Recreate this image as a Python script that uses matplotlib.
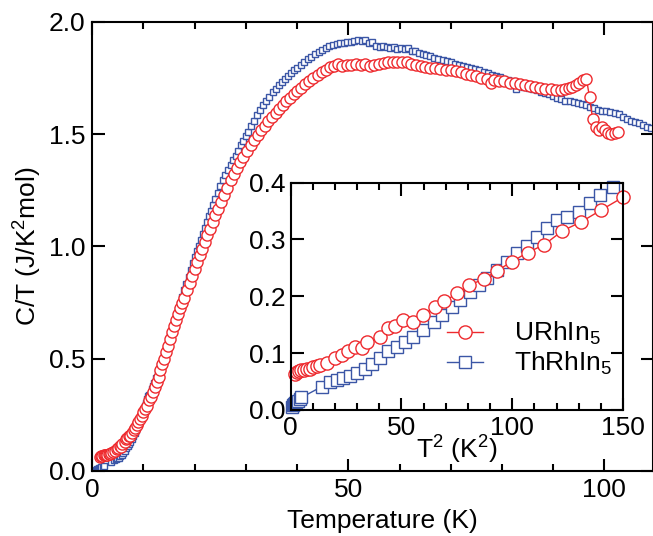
import numpy as np
import matplotlib
matplotlib.use("Agg")
import matplotlib.pyplot as plt

plt.rcParams['font.family'] = ['Liberation Sans', 'DejaVu Sans']
plt.rcParams['mathtext.fontset'] = 'custom'
plt.rcParams['mathtext.rm'] = 'Liberation Sans'
plt.rcParams['mathtext.it'] = 'Liberation Sans:italic'
plt.rcParams['mathtext.bf'] = 'Liberation Sans:bold'

# ---- URhIn5 (red circles): T (K), C/T (J/K^2 mol)
u_T = [1.45, 1.7, 1.95, 2.2, 2.45, 2.7, 2.95, 3.2, 3.45, 3.65, 4.07, 4.47, 4.80, 5.10,
       5.39, 5.66, 5.86, 6.36, 6.64, 6.86, 7.13, 7.44, 7.74, 8.07, 8.32, 8.66, 8.98,
       9.33, 9.65, 9.99, 10.34, 10.70, 11.07, 11.45, 11.84, 12.24,
       12.6, 12.95, 13.3, 13.65, 14.0, 14.4, 14.8, 15.2, 15.6, 16.0, 16.4, 16.8, 17.2,
       17.6, 18.0, 18.5, 19.0, 19.5, 20.0, 20.5, 21.0, 21.5, 22.0, 22.5, 23.0, 23.5,
       24.0, 24.6, 25.2, 25.8, 26.4, 27.0, 27.6, 28.2, 28.8, 29.5, 30.2, 30.9, 31.6,
       32.3, 33.0, 33.7, 34.4, 35.1, 35.8, 36.5, 37.2, 37.9, 38.6, 39.3, 40.0, 40.8,
       41.6, 42.4, 43.2, 44.0, 44.8, 45.6, 46.4, 47.2, 48.0, 48.8, 49.7, 50.6, 51.5,
       52.4, 53.3, 54.2, 55.1, 56.0, 56.9, 57.8, 58.7, 59.6, 60.5, 61.4, 62.3, 63.2,
       64.1, 65.0, 66.0, 67.0, 68.0, 69.0, 70.0, 71.0, 72.0, 73.0, 74.0, 75.0, 76.0,
       77.0, 77.8, 78.5, 79.5, 80.5, 81.5, 82.5, 83.5, 84.5, 85.5, 86.5, 87.5, 88.5,
       89.5, 90.5, 91.5, 92.3, 93.0, 93.7, 94.4, 95.1, 95.8, 96.5, 97.1, 97.7, 98.3,
       98.9, 99.5, 100.1, 100.7, 101.3, 102.0, 102.7]
u_CT = [0.063, 0.066, 0.068, 0.070, 0.071, 0.072, 0.073, 0.075, 0.077, 0.079, 0.083,
        0.091, 0.097, 0.103, 0.111, 0.109, 0.119, 0.129, 0.144, 0.147, 0.158, 0.154,
        0.167, 0.182, 0.191, 0.205, 0.220, 0.230, 0.245, 0.261, 0.277, 0.291, 0.315,
        0.331, 0.352, 0.374,
        0.395, 0.42, 0.45, 0.475, 0.50, 0.528, 0.558, 0.59, 0.618, 0.645, 0.672, 0.698,
        0.724, 0.748, 0.772, 0.805, 0.838, 0.87, 0.90, 0.93, 0.96, 0.99, 1.02, 1.05,
        1.08, 1.11, 1.14, 1.168, 1.20, 1.23, 1.262, 1.295, 1.325, 1.35, 1.375, 1.40,
        1.425, 1.45, 1.475, 1.497, 1.518, 1.538, 1.558, 1.577, 1.596, 1.613, 1.63,
        1.647, 1.663, 1.678, 1.692, 1.707, 1.722, 1.737, 1.751, 1.764, 1.776, 1.788,
        1.798, 1.806, 1.812, 1.805, 1.81, 1.808, 1.812, 1.81, 1.814, 1.806, 1.81,
        1.815, 1.818, 1.82, 1.822, 1.823, 1.822, 1.82, 1.815, 1.81, 1.805, 1.80, 1.797,
        1.795, 1.792, 1.788, 1.785, 1.78, 1.775, 1.77, 1.765, 1.76, 1.752, 1.745,
        1.73, 1.742, 1.738, 1.735, 1.73, 1.727, 1.724, 1.72, 1.715, 1.71, 1.705, 1.70,
        1.70, 1.697, 1.695, 1.70, 1.705, 1.712, 1.718, 1.728, 1.74, 1.748, 1.665, 1.57,
        1.53, 1.518, 1.53, 1.52, 1.505, 1.50, 1.505, 1.512]

# ---- ThRhIn5 (blue squares)
th_T = [0.8, 1.0, 1.2, 1.4, 1.6, 1.8, 2.0, 2.2, 3.74, 4.22, 4.56, 4.88, 5.18, 5.46,
        5.80, 6.05, 6.36, 6.64, 6.92, 7.19, 7.44, 7.74, 8.03, 8.26, 8.53, 8.75, 9.0,
        9.21, 9.41, 9.65, 9.88, 10.10, 10.32, 10.54, 10.76, 10.96, 11.17, 11.40, 11.63,
        11.82, 12.07,
        12.4, 12.8, 13.2, 13.6, 14.0, 14.4, 14.8, 15.2, 15.6, 16.0, 16.4, 16.8, 17.2,
        17.6, 18.0, 18.4, 18.8, 19.2, 19.6, 20.0, 20.4, 20.8, 21.2, 21.6, 22.0, 22.4,
        22.8, 23.2, 23.6, 24.0, 24.5, 25.0, 25.5, 26.0, 26.5, 27.0, 27.5, 28.0, 28.5,
        29.0, 29.5, 30.0, 30.5, 31.0, 31.6, 32.2, 32.8, 33.4, 34.0, 34.6, 35.2, 35.8,
        36.4, 37.0, 37.6, 38.2, 38.8, 39.4, 40.0, 40.7, 41.4, 42.1, 42.8, 43.5, 44.2,
        44.9, 45.6, 46.3, 47.0, 47.7, 48.4, 49.1, 49.8, 50.5, 51.2, 51.9, 52.6, 53.3,
        54.0, 54.7, 55.4, 56.1, 56.8, 57.5, 58.2, 58.9, 59.6, 60.3, 61.0, 61.7, 62.4,
        63.1, 63.8, 64.5, 65.2, 66.0, 66.8, 67.6, 68.4, 69.2, 70.0, 70.8, 71.6, 72.4,
        73.2, 74.0, 74.8, 75.6, 76.4, 77.2, 78.0, 78.8, 79.6, 80.4, 81.2, 82.0, 82.8,
        83.6, 84.4, 85.2, 86.0, 86.8, 87.6, 88.4, 89.2, 90.0, 90.8, 91.6, 92.4, 93.2,
        94.0, 94.8, 95.6, 96.4, 97.2, 98.0, 98.8, 99.6, 100.4, 101.2, 102.0, 102.8,
        103.6, 104.4, 105.2, 106.0, 106.8, 107.6, 108.4, 109.2]
th_CT = [0.006, 0.008, 0.010, 0.012, 0.014, 0.016, 0.019, 0.022, 0.041, 0.050, 0.053,
         0.056, 0.059, 0.065, 0.073, 0.081, 0.091, 0.103, 0.111, 0.120, 0.129, 0.141,
         0.155, 0.167, 0.182, 0.194, 0.208, 0.220, 0.232, 0.246, 0.261, 0.276, 0.289,
         0.304, 0.320, 0.334, 0.340, 0.349, 0.364, 0.378, 0.392,
         0.415, 0.44, 0.466, 0.492, 0.518, 0.545, 0.572, 0.60, 0.628, 0.657, 0.686,
         0.715, 0.745, 0.775, 0.805, 0.835, 0.865, 0.895, 0.925, 0.952, 0.978, 1.003,
         1.03, 1.056, 1.082, 1.108, 1.134, 1.16, 1.185, 1.21, 1.24, 1.268, 1.295, 1.318,
         1.34, 1.362, 1.384, 1.405, 1.427, 1.45, 1.47, 1.49, 1.512, 1.535, 1.56, 1.585,
         1.608, 1.628, 1.648, 1.668, 1.686, 1.703, 1.718, 1.733, 1.745, 1.758, 1.772,
         1.786, 1.797, 1.81, 1.822, 1.833, 1.845, 1.856, 1.866, 1.875, 1.884, 1.892,
         1.897, 1.902, 1.905, 1.908, 1.91, 1.912, 1.915, 1.92, 1.915, 1.918, 1.905,
         1.91, 1.895, 1.89, 1.895, 1.89, 1.885, 1.89, 1.88, 1.885, 1.878, 1.882, 1.87,
         1.872, 1.862, 1.858, 1.852, 1.848, 1.84, 1.835, 1.83, 1.825, 1.82, 1.815, 1.81,
         1.805, 1.80, 1.796, 1.79, 1.785, 1.778, 1.772, 1.765, 1.76, 1.755, 1.748,
         1.742, 1.735, 1.70, 1.72, 1.712, 1.706, 1.70, 1.695, 1.69, 1.685, 1.678, 1.67,
         1.662, 1.656, 1.65, 1.646, 1.642, 1.638, 1.634, 1.63, 1.622, 1.615, 1.61,
         1.605, 1.602, 1.598, 1.595, 1.59, 1.578, 1.568, 1.56, 1.555, 1.548, 1.54,
         1.532, 1.526]

labels = ['URhIn$_5$', 'ThRhIn$_5$']
RED = '#EE2A2E'
BLUE = '#3B56A6'

u_T, u_CT = np.array(u_T), np.array(u_CT)
th_T, th_CT = np.array(th_T), np.array(th_CT)

fig = plt.figure(figsize=(6.53, 5.36), dpi=100)

# ---- main panel
ax = fig.add_axes([0.1413, 0.1213, 0.8587, 0.8377])
ax.plot(th_T, th_CT, '-s', color=BLUE, mfc='white', ms=4.5, mew=1, lw=1)
ax.plot(u_T, u_CT, '-o', color=RED, mfc='white', ms=8, mew=1, lw=1)
ax.set_xlim(0, 109.5)
ax.set_ylim(0, 2.0)
ax.set_xticks([0, 50, 100])
ax.set_xticks(np.arange(0, 110, 10), minor=True)
ax.set_yticks([0, 0.5, 1.0, 1.5, 2.0])
ax.set_yticklabels(['0.0', '0.5', '1.0', '1.5', '2.0'])
ax.tick_params(which='both', direction='in', top=True, right=True, width=1.5,
               labelsize=19)
ax.tick_params(which='major', length=9, pad=5)
ax.tick_params(which='minor', length=5)
for s in ax.spines.values():
    s.set_linewidth(1.5)
ax.set_xlabel('Temperature (K)', fontsize=19)
ax.set_ylabel('C/T (J/K$^2$mol)', fontsize=19)
ax.xaxis.set_label_coords(0.517, -0.085)
ax.yaxis.set_label_coords(-0.086, 0.5)

# ---- inset: C/T vs T^2 at low T
ax2 = fig.add_axes([0.4452, 0.2351, 0.5089, 0.4241])
m_th = th_T**2 <= 150
m_u = u_T**2 <= 150
l_th, = ax2.plot(th_T[m_th]**2, th_CT[m_th], '-s', color=BLUE, mfc='white', ms=9,
                 mew=1, lw=1, clip_on=False)
l_u, = ax2.plot(u_T[m_u]**2, u_CT[m_u], '-o', color=RED, mfc='white', ms=9.5,
                mew=1, lw=1, clip_on=False)
ax2.set_xlim(0, 150)
ax2.set_ylim(0, 0.4)
ax2.set_xticks([0, 50, 100, 150])
ax2.set_xticks(np.arange(0, 151, 10), minor=True)
ax2.set_yticks([0, 0.1, 0.2, 0.3, 0.4])
ax2.set_yticklabels(['0.0', '0.1', '0.2', '0.3', '0.4'])
ax2.tick_params(which='both', direction='in', top=True, right=True, width=1.5,
                labelsize=19)
ax2.tick_params(which='major', length=9, pad=4)
ax2.tick_params(which='minor', length=5)
for s in ax2.spines.values():
    s.set_linewidth(1.5)
ax2.set_xlabel('T$^2$ (K$^2$)', fontsize=19, labelpad=-4)

ax2.legend([l_u, l_th], labels, loc='center left', bbox_to_anchor=(0.47, 0.27),
           frameon=False, fontsize=19, handlelength=1.35, handletextpad=1.2,
           labelspacing=0.1, borderpad=0, borderaxespad=0)

fig.savefig('out.png', dpi=100)
